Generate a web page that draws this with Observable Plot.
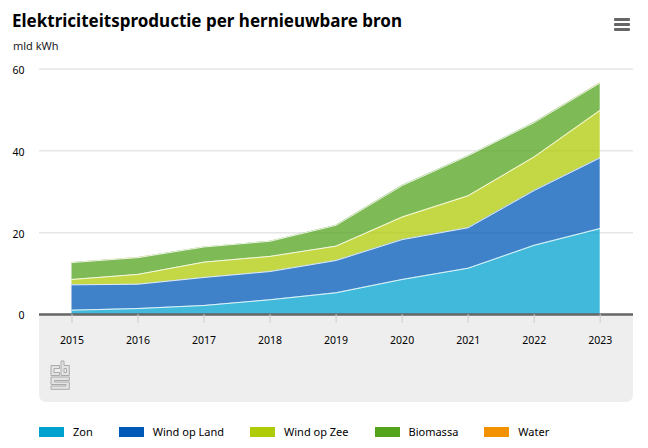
<!DOCTYPE html>
<html><head><meta charset="utf-8">
<script src="https://cdn.jsdelivr.net/npm/d3@7"></script>
<script src="https://cdn.jsdelivr.net/npm/@observablehq/plot@0.6"></script>
<style>
html,body{margin:0;padding:0;background:#fff;overflow:hidden}
body{width:648px;height:448px;position:relative;font-family:"Noto Sans",sans-serif;color:#000}
#title{position:absolute;left:12px;top:9px;font:700 17px/24px "Noto Sans",sans-serif;white-space:nowrap}
#unit{position:absolute;left:13px;top:38px;font:11px/16px "Noto Sans",sans-serif;color:#222}
#panel{position:absolute;left:39px;top:314px;width:594px;height:88px;background:#eee;border-radius:0 0 7px 7px}
#chart{position:absolute;left:0;top:60px}
#chart svg{background:transparent;display:block}
#legend{position:absolute;left:39px;top:425px;display:flex;gap:26px;font-size:11px;line-height:14px;white-space:nowrap}
#legend div{display:flex;align-items:center;gap:9px}
#legend i{display:block;width:25px;height:10px}
#menu{position:absolute;left:614px;top:18px;width:16px}
#menu b{display:block;height:3px;background:#666;margin-bottom:2px;border-radius:1px}
#logo{position:absolute;left:50px;top:360px}
</style></head><body>
<div id="panel"></div>
<div id="title">Elektriciteitsproductie per hernieuwbare bron</div>
<div id="unit">mld kWh</div>
<div id="menu"><b></b><b></b><b></b></div>
<div id="chart"></div>
<svg id="logo" width="21" height="31" viewBox="0 0 21 31" fill="#e4e4e4" stroke="#aaa" stroke-width="1">
<path d="M1 5.500H9.500V8.500H4V12.500H9.500V15.500H1Z"/>
<path fill-rule="evenodd" d="M11 1H14V5.500H19.300V15.500H11ZM14 8.500V12.500H16.500V8.500Z"/>
<path d="M1 17H19.300V20.500H4.500V22H19.300V29.300H1V26H16V24.500H1Z"/>
</svg>
<div id="legend"></div>
<script>
const years = [2015, 2016, 2017, 2018, 2019, 2020, 2021, 2022, 2023];
const seriesNames = ["Zon", "Wind op Land", "Wind op Zee", "Biomassa", "Water"];
const seriesColors = ["#00a1cd", "#0058b8", "#afcb05", "#53a31d", "#f39200"];
const outlinedSeries = ["Zon", "Wind op Land", "Wind op Zee", "Biomassa"];
const zon = [1.05, 1.45, 2.2, 3.6, 5.3, 8.55, 11.3, 16.9, 21.0];
const windLand = [6.2, 5.95, 6.85, 6.9, 7.9, 9.75, 9.9, 13.4, 17.3];
const windZee = [1.3, 2.4, 3.75, 3.7, 3.5, 5.5, 7.8, 8.2, 11.6];
const biomassa = [4.15, 4.1, 3.7, 3.7, 5.1, 7.7, 9.8, 8.4, 6.7];
const water = [0.01, 0.01, 0.01, 0.01, 0.01, 0.01, 0.01, 0.01, 0.01];
const yTicks = [0, 20, 40, 60];

const columns = [zon, windLand, windZee, biomassa, water];
const rows = seriesNames.flatMap((s, i) => years.map((year, j) => ({year, series: s, value: columns[i][j]})));

const plot = Plot.plot({
  width: 648, height: 350,
  marginLeft: 39, marginRight: 15, marginTop: 8.5, marginBottom: 96,
  style: {fontFamily: '"Noto Sans",sans-serif', fontSize: "10.5px", background: "transparent"},
  x: {domain: [2015, 2023], range: [71.5, 599.7]},
  y: {domain: [0, 60]},
  color: {domain: seriesNames, range: seriesColors},
  marks: [
    Plot.ruleY(yTicks.slice(1), {stroke: "#e6e6e6", strokeWidth: 1.5}),
    Plot.areaY(rows, {x: "year", y: "value", z: "series", fill: "series", order: seriesNames, fillOpacity: 0.75}),
    Plot.lineY(rows, Plot.stackY2({x: "year", y: "value", z: "series", order: seriesNames, stroke: (d) => outlinedSeries.includes(d.series) ? "#ffffff" : "none", strokeOpacity: 0.85, strokeWidth: 1})),
    Plot.ruleY([0], {stroke: "#666", strokeWidth: 2.5}),
    Plot.axisX({ticks: years, tickFormat: "d", tickSize: 9, tickPadding: 13, stroke: "#ccc", fill: "#000", label: null, anchor: "bottom"}),
    Plot.axisY({ticks: yTicks, tickSize: 0, tickPadding: 15, label: null, fill: "#000", dy: 1.5})
  ]
});
document.getElementById("chart").append(plot);

const legend = document.getElementById("legend");
seriesNames.forEach((name, i) => {
  const item = document.createElement("div");
  const sw = document.createElement("i");
  sw.style.background = seriesColors[i];
  const label = document.createElement("span");
  label.textContent = name;
  item.append(sw, label);
  legend.append(item);
});
</script>
</body></html>
